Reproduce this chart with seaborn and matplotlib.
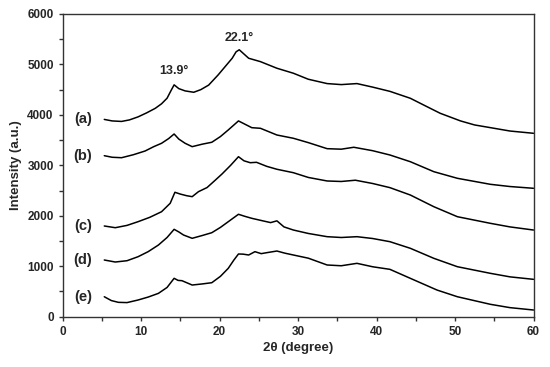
import pandas as pd
import matplotlib
matplotlib.use("Agg")
import matplotlib.pyplot as plt
import seaborn as sns
from matplotlib.ticker import MultipleLocator

# Werte (2theta, Intensität)
x_a = [5.3, 6.3, 7.5, 8.5, 9.6, 10.7, 11.8, 12.6, 13.3, 13.8, 14.2, 14.8, 15.6, 16.7, 17.6, 18.6, 19.8,
       20.7, 21.6, 22.1, 22.5, 23.0, 23.7, 25.2, 27.3, 29.4, 31.3, 33.7, 35.5, 37.5, 39.5, 41.7, 44.3,
       46.2, 48.1, 50.7, 52.5, 54.5, 57.0, 60.0]
y_a = [3910, 3880, 3870, 3900, 3960, 4040, 4130, 4220, 4330, 4480, 4595, 4520, 4475, 4448, 4500, 4590, 4790,
       4956, 5122, 5250, 5290, 5220, 5122, 5055, 4924, 4825, 4706, 4620, 4600, 4620, 4550, 4466, 4329,
       4180, 4032, 3880, 3800, 3747, 3680, 3635]

x_b = [5.3, 6.3, 7.5, 9.0, 10.5, 11.6, 12.6, 13.5, 14.2, 14.8, 15.6, 16.5, 17.8, 19.0, 20.1, 21.1, 22.4,
       24.1, 25.2, 27.3, 29.4, 31.3, 33.7, 35.5, 37.1, 39.5, 41.7, 44.3, 47.3, 50.3, 54.5, 57.0, 60.0]
y_b = [3191, 3160, 3151, 3210, 3284, 3370, 3437, 3530, 3621, 3520, 3437, 3370, 3420, 3457, 3570, 3701, 3880,
       3746, 3734, 3601, 3536, 3450, 3330, 3320, 3358, 3290, 3205, 3072, 2874, 2743, 2624, 2580, 2545]

x_c = [5.3, 6.7, 8.2, 9.6, 11.1, 12.6, 13.7, 14.3, 15.0, 15.8, 16.5, 17.3, 18.4, 19.4, 20.3, 21.4, 22.4,
       23.1, 23.9, 24.7, 26.0, 27.3, 29.4, 31.3, 33.7, 35.5, 37.3, 39.5, 41.7, 44.3, 47.3, 50.3, 54.5,
       57.0, 60.0]
y_c = [1798, 1764, 1810, 1883, 1970, 2081, 2248, 2466, 2430, 2398, 2379, 2478, 2560, 2700, 2828, 3000, 3171,
       3090, 3052, 3060, 2980, 2922, 2854, 2760, 2690, 2680, 2705, 2640, 2558, 2412, 2180, 1982, 1851,
       1780, 1718]

x_d = [5.3, 6.7, 8.2, 9.6, 10.9, 12.2, 13.3, 14.2, 14.8, 15.4, 16.5, 17.8, 19.0, 20.1, 21.1, 22.4, 23.2,
       24.1, 25.5, 26.5, 27.3, 28.2, 29.4, 31.3, 33.7, 35.5, 37.5, 39.5, 41.7, 44.3, 47.3, 50.3, 54.5,
       57.0, 60.0]
y_d = [1124, 1084, 1110, 1189, 1290, 1421, 1570, 1732, 1680, 1619, 1554, 1610, 1665, 1770, 1883, 2030, 1990,
       1950, 1900, 1865, 1900, 1780, 1718, 1650, 1586, 1570, 1586, 1550, 1487, 1356, 1157, 991, 860,
       790, 741]

x_e = [5.3, 6.2, 7.1, 8.2, 9.6, 10.9, 12.2, 13.3, 14.2, 14.7, 15.2, 16.5, 17.8, 19.0, 20.1, 21.1, 21.8,
       22.4, 23.0, 23.7, 24.5, 25.3, 26.0, 27.3, 28.3, 29.4, 31.3, 33.7, 35.5, 37.5, 39.5, 41.7, 44.3,
       47.7, 50.3, 54.5, 57.0, 60.0]
y_e = [396, 320, 285, 280, 331, 390, 463, 580, 761, 720, 714, 628, 650, 674, 800, 959, 1120,
       1243, 1240, 1223, 1289, 1250, 1269, 1302, 1260, 1223, 1160, 1025, 1010, 1058, 990, 939, 761,
       529, 396, 246, 180, 133]

labels = ["(a)", "(b)", "(c)", "(d)", "(e)"]
series = [(x_a, y_a), (x_b, y_b), (x_c, y_c), (x_d, y_d), (x_e, y_e)]

rows = []
for lab, (xs, ys) in zip(labels, series):
    for xv, yv in zip(xs, ys):
        rows.append({"probe": lab, "theta": xv, "intensity": yv})
df = pd.DataFrame(rows)

sns.set_theme(style="ticks")
plt.rcParams["font.family"] = ["Liberation Sans", "DejaVu Sans"]

fig = plt.figure(figsize=(5.5, 3.67), dpi=100)
ax = fig.add_axes([0.114, 0.137, 0.856, 0.825])

sns.lineplot(data=df, x="theta", y="intensity", units="probe", estimator=None,
             color="black", linewidth=1.1, sort=False, ax=ax)

# Beschriftung der Kurven
for lab, (xs, ys) in zip(labels, series):
    ax.text(2.6, ys[0], lab, fontsize=10.5, fontweight="bold", ha="center", va="center")

# Peaks markieren
ax.text(x_a[10], y_a[10] + 150, "13.9°", fontsize=9, fontweight="bold", ha="center", va="bottom")
ax.text(x_a[20], y_a[20] + 110, "22.1°", fontsize=9, fontweight="bold", ha="center", va="bottom")

ax.set_xlim(0, 60)
ax.set_ylim(0, 6000)
ax.xaxis.set_major_locator(MultipleLocator(10))
ax.xaxis.set_minor_locator(MultipleLocator(5))
ax.yaxis.set_major_locator(MultipleLocator(1000))
ax.yaxis.set_minor_locator(MultipleLocator(500))
ax.tick_params(which="both", direction="out", length=3, width=1, color="#333333")
for lbl in ax.get_xticklabels() + ax.get_yticklabels():
    lbl.set_fontweight("bold")
    lbl.set_fontsize(8.5)

for sp in ax.spines.values():
    sp.set_color("#333333")
    sp.set_linewidth(1)

ax.set_xlabel("2θ (degree)", fontsize=9.5, fontweight="bold", labelpad=3)
ax.set_ylabel("Intensity (a.u.)", fontsize=9.5, fontweight="bold", labelpad=4)

plt.savefig("out.png", dpi=100)
